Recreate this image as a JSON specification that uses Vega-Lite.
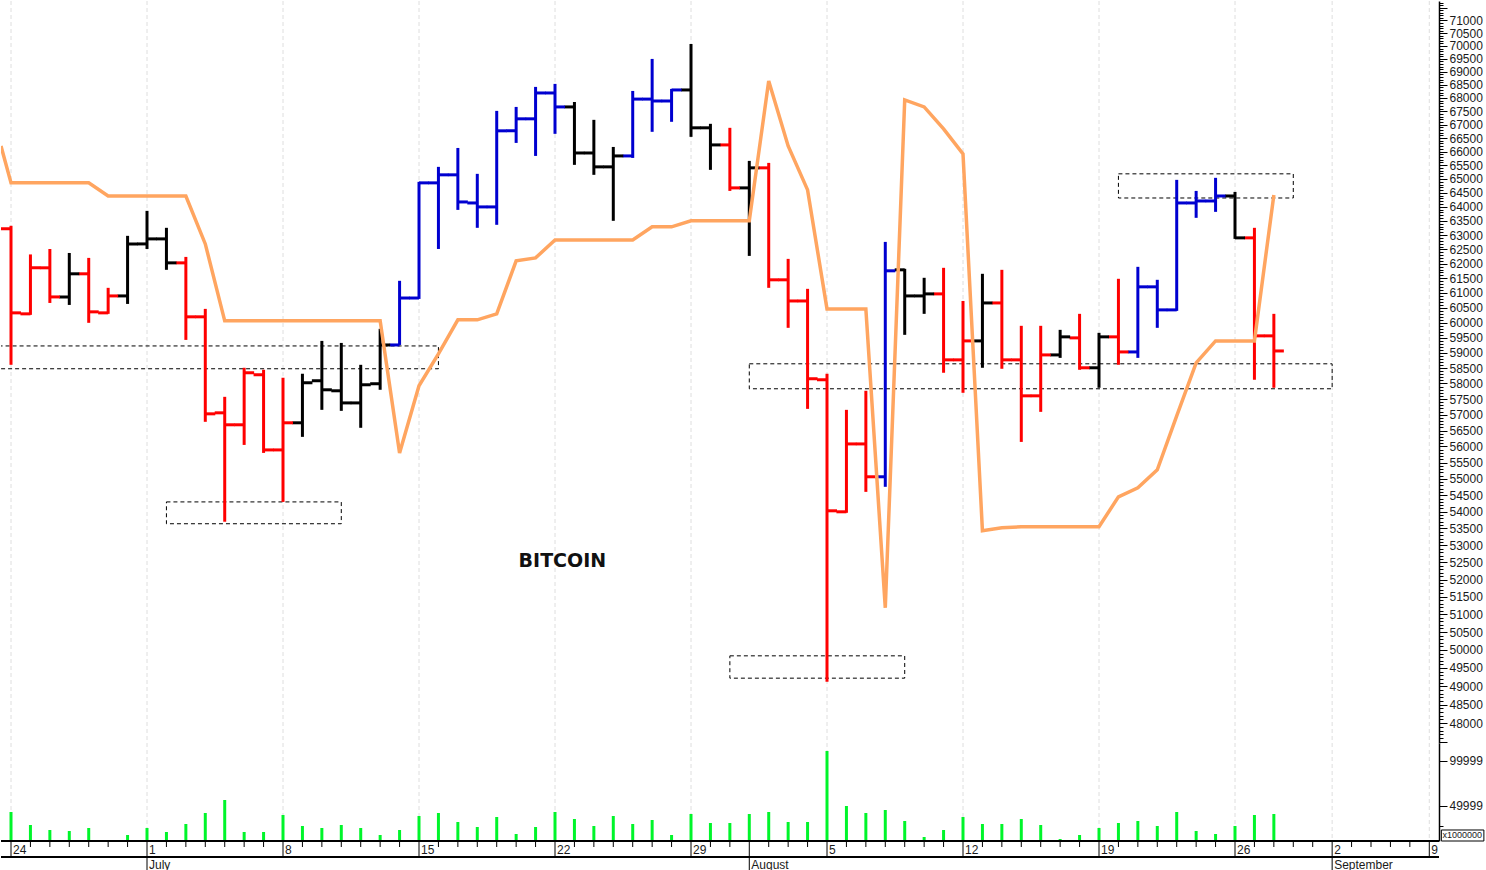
{
  "$schema": "https://vega.github.io/schema/vega-lite/v6.json",
  "padding": 0,
  "background": "white",
  "spacing": 0,
  "bounds": "flush",
  "config": {
    "view": {"stroke": null},
    "text": {"font": "Liberation Sans"}
  },
  "datasets": {
    "bars": [
      {"day":0,"open":63220,"high":63326,"low":58607,"close":60328,"volume":43340,"trend":"down"},
      {"day":1,"open":60295,"high":62324,"low":60261,"close":61861,"volume":28900,"trend":"down"},
      {"day":2,"open":61861,"high":62514,"low":60662,"close":60866,"volume":23340,"trend":"down"},
      {"day":3,"open":60866,"high":62375,"low":60595,"close":61655,"volume":22230,"trend":"flat"},
      {"day":4,"open":61655,"high":62204,"low":59994,"close":60362,"volume":25560,"trend":"down"},
      {"day":5,"open":60328,"high":61175,"low":60295,"close":60900,"volume":12230,"trend":"down"},
      {"day":6,"open":60900,"high":62973,"low":60629,"close":62690,"volume":17790,"trend":"flat"},
      {"day":7,"open":62690,"high":63855,"low":62514,"close":62866,"volume":25560,"trend":"flat"},
      {"day":8,"open":62866,"high":63255,"low":61792,"close":62032,"volume":21120,"trend":"flat"},
      {"day":9,"open":62032,"high":62238,"low":59426,"close":60195,"volume":30000,"trend":"down"},
      {"day":10,"open":60195,"high":60462,"low":56775,"close":57028,"volume":42230,"trend":"down"},
      {"day":11,"open":57060,"high":57571,"low":53701,"close":56681,"volume":56670,"trend":"down"},
      {"day":12,"open":56681,"high":58510,"low":56049,"close":58348,"volume":21120,"trend":"down"},
      {"day":13,"open":58283,"high":58445,"low":55800,"close":55893,"volume":21120,"trend":"down"},
      {"day":14,"open":55893,"high":58186,"low":54297,"close":56744,"volume":40000,"trend":"down"},
      {"day":15,"open":56744,"high":58316,"low":56301,"close":58024,"volume":27780,"trend":"flat"},
      {"day":16,"open":58089,"high":59393,"low":57155,"close":57797,"volume":25560,"trend":"flat"},
      {"day":17,"open":57765,"high":59326,"low":57123,"close":57376,"volume":28900,"trend":"flat"},
      {"day":18,"open":57376,"high":58607,"low":56586,"close":57959,"volume":25560,"trend":"flat"},
      {"day":19,"open":57992,"high":59794,"low":57797,"close":59259,"volume":17790,"trend":"flat"},
      {"day":20,"open":59259,"high":61415,"low":59259,"close":60829,"volume":23340,"trend":"up"},
      {"day":21,"open":60829,"high":64896,"low":60798,"close":64859,"volume":38900,"trend":"up"},
      {"day":22,"open":64859,"high":65440,"low":62514,"close":65150,"volume":42230,"trend":"up"},
      {"day":23,"open":65150,"high":66133,"low":63890,"close":64173,"volume":32230,"trend":"up"},
      {"day":24,"open":64137,"high":65186,"low":63255,"close":63996,"volume":26670,"trend":"up"},
      {"day":25,"open":63996,"high":67513,"low":63361,"close":66767,"volume":37780,"trend":"up"},
      {"day":26,"open":66767,"high":67662,"low":66319,"close":67215,"volume":18900,"trend":"up"},
      {"day":27,"open":67215,"high":68421,"low":65840,"close":68190,"volume":26670,"trend":"up"},
      {"day":28,"open":68190,"high":68536,"low":66655,"close":67662,"volume":43340,"trend":"up"},
      {"day":29,"open":67662,"high":67849,"low":65513,"close":65948,"volume":35560,"trend":"flat"},
      {"day":30,"open":65948,"high":67177,"low":65150,"close":65440,"volume":27780,"trend":"flat"},
      {"day":31,"open":65440,"high":66170,"low":63502,"close":65840,"volume":38900,"trend":"flat"},
      {"day":32,"open":65840,"high":68267,"low":65767,"close":67958,"volume":30000,"trend":"up"},
      {"day":33,"open":67958,"high":69496,"low":66730,"close":67886,"volume":34450,"trend":"up"},
      {"day":34,"open":67886,"high":68344,"low":67103,"close":68305,"volume":17790,"trend":"up"},
      {"day":35,"open":68305,"high":70076,"low":66543,"close":66879,"volume":41120,"trend":"flat"},
      {"day":36,"open":66879,"high":67028,"low":65331,"close":66245,"volume":31120,"trend":"flat"},
      {"day":37,"open":66245,"high":66879,"low":64569,"close":64678,"volume":31120,"trend":"down"},
      {"day":38,"open":64678,"high":65658,"low":62273,"close":65404,"volume":41120,"trend":"flat"},
      {"day":39,"open":65404,"high":65585,"low":61175,"close":61449,"volume":43340,"trend":"down"},
      {"day":40,"open":61449,"high":62170,"low":59827,"close":60729,"volume":32230,"trend":"down"},
      {"day":41,"open":60729,"high":61141,"low":57186,"close":58154,"volume":32230,"trend":"down"},
      {"day":42,"open":58121,"high":58316,"low":49123,"close":54029,"volume":111109,"trend":"down"},
      {"day":43,"open":53999,"high":57155,"low":53969,"close":56080,"volume":50000,"trend":"down"},
      {"day":44,"open":56080,"high":57765,"low":54602,"close":55063,"volume":42230,"trend":"down"},
      {"day":45,"open":55063,"high":62761,"low":54756,"close":61758,"volume":45560,"trend":"up"},
      {"day":46,"open":61792,"high":61827,"low":59594,"close":60900,"volume":33340,"trend":"flat"},
      {"day":47,"open":60900,"high":61518,"low":60295,"close":60969,"volume":15560,"trend":"flat"},
      {"day":48,"open":60969,"high":61861,"low":58348,"close":58769,"volume":23340,"trend":"down"},
      {"day":49,"open":58769,"high":60729,"low":57700,"close":59393,"volume":37780,"trend":"down"},
      {"day":50,"open":59393,"high":61655,"low":58510,"close":60662,"volume":30000,"trend":"flat"},
      {"day":51,"open":60662,"high":61792,"low":58478,"close":58769,"volume":30000,"trend":"down"},
      {"day":52,"open":58769,"high":59894,"low":56143,"close":57603,"volume":35560,"trend":"down"},
      {"day":53,"open":57603,"high":59894,"low":57091,"close":58931,"volume":28900,"trend":"down"},
      {"day":54,"open":58931,"high":59760,"low":58834,"close":59527,"volume":13340,"trend":"flat"},
      {"day":55,"open":59493,"high":60295,"low":58445,"close":58510,"volume":17790,"trend":"down"},
      {"day":56,"open":58510,"high":59660,"low":57862,"close":59527,"volume":25560,"trend":"flat"},
      {"day":57,"open":59527,"high":61484,"low":58607,"close":59029,"volume":31120,"trend":"down"},
      {"day":58,"open":59029,"high":61895,"low":58834,"close":61209,"volume":33340,"trend":"up"},
      {"day":59,"open":61209,"high":61449,"low":59827,"close":60428,"volume":27780,"trend":"up"},
      {"day":60,"open":60428,"high":64968,"low":60395,"close":64137,"volume":43340,"trend":"up"},
      {"day":61,"open":64137,"high":64569,"low":63608,"close":64208,"volume":22230,"trend":"up"},
      {"day":62,"open":64208,"high":65041,"low":63820,"close":64387,"volume":18900,"trend":"up"},
      {"day":63,"open":64387,"high":64533,"low":62866,"close":62902,"volume":27780,"trend":"flat"},
      {"day":64,"open":62902,"high":63255,"low":58121,"close":59560,"volume":40000,"trend":"down"},
      {"day":65,"open":59560,"high":60295,"low":57862,"close":59061,"volume":41120,"trend":"down"}
    ],
    "signal": [
      {"day":-0.515,"value":66207},{"day":0,"value":64859},{"day":1,"value":64859},{"day":2,"value":64859},{"day":3,"value":64859},{"day":4,"value":64859},
      {"day":5,"value":64387},{"day":6,"value":64387},{"day":7,"value":64387},{"day":8,"value":64387},{"day":9,"value":64387},{"day":10,"value":62690},
      {"day":11,"value":60061},{"day":12,"value":60061},{"day":13,"value":60061},{"day":14,"value":60061},{"day":15,"value":60061},{"day":16,"value":60061},
      {"day":17,"value":60061},{"day":18,"value":60061},{"day":19,"value":60061},{"day":20,"value":55800},{"day":21,"value":57927},{"day":22,"value":58964},
      {"day":23,"value":60095},{"day":24,"value":60095},{"day":25,"value":60295},{"day":26,"value":62101},{"day":27,"value":62204},{"day":28,"value":62831},
      {"day":29,"value":62831},{"day":30,"value":62831},{"day":31,"value":62831},{"day":32,"value":62831},{"day":33,"value":63290},{"day":34,"value":63290},
      {"day":35,"value":63502},{"day":36,"value":63502},{"day":37,"value":63502},{"day":38,"value":63502},{"day":39,"value":68651},{"day":40,"value":66207},
      {"day":41,"value":64605},{"day":42,"value":60462},{"day":43,"value":60462},{"day":44,"value":60462},{"day":45,"value":51187},{"day":46,"value":67925},
      {"day":47,"value":67662},{"day":48,"value":66842},{"day":49,"value":65912},{"day":50,"value":53433},{"day":51,"value":53521},{"day":52,"value":53552},
      {"day":53,"value":53552},{"day":54,"value":53552},{"day":55,"value":53552},{"day":56,"value":53552},{"day":57,"value":54450},{"day":58,"value":54726},
      {"day":59,"value":55278},{"day":60,"value":56965},{"day":61,"value":58672},{"day":62,"value":59393},{"day":63,"value":59393},{"day":64,"value":59393},
      {"day":65,"value":64423}
    ],
    "boxes": [
      {"from":-1,"to":22,"top":59226,"bottom":58478},
      {"from":8,"to":17,"top":54297,"bottom":53641},
      {"from":38,"to":68,"top":58640,"bottom":57830},
      {"from":37,"to":46,"top":49835,"bottom":49219},
      {"from":57,"to":66,"top":65186,"bottom":64315}
    ],
    "dates": [
      {"day":0,"level":"week","label":"24"},{"day":1,"level":"day"},{"day":2,"level":"day"},{"day":3,"level":"day"},{"day":4,"level":"day"},{"day":5,"level":"day"},{"day":6,"level":"day"},
      {"day":7,"level":"month","label":"1","month":"July"},{"day":8,"level":"day"},{"day":9,"level":"day"},{"day":10,"level":"day"},{"day":11,"level":"day"},{"day":12,"level":"day"},{"day":13,"level":"day"},
      {"day":14,"level":"week","label":"8"},{"day":15,"level":"day"},{"day":16,"level":"day"},{"day":17,"level":"day"},{"day":18,"level":"day"},{"day":19,"level":"day"},{"day":20,"level":"day"},
      {"day":21,"level":"week","label":"15"},{"day":22,"level":"day"},{"day":23,"level":"day"},{"day":24,"level":"day"},{"day":25,"level":"day"},{"day":26,"level":"day"},{"day":27,"level":"day"},
      {"day":28,"level":"week","label":"22"},{"day":29,"level":"day"},{"day":30,"level":"day"},{"day":31,"level":"day"},{"day":32,"level":"day"},{"day":33,"level":"day"},{"day":34,"level":"day"},
      {"day":35,"level":"week","label":"29"},{"day":36,"level":"day"},{"day":37,"level":"day"},{"day":38,"level":"month","month":"August"},{"day":39,"level":"day"},{"day":40,"level":"day"},{"day":41,"level":"day"},
      {"day":42,"level":"week","label":"5"},{"day":43,"level":"day"},{"day":44,"level":"day"},{"day":45,"level":"day"},{"day":46,"level":"day"},{"day":47,"level":"day"},{"day":48,"level":"day"},
      {"day":49,"level":"week","label":"12"},{"day":50,"level":"day"},{"day":51,"level":"day"},{"day":52,"level":"day"},{"day":53,"level":"day"},{"day":54,"level":"day"},{"day":55,"level":"day"},
      {"day":56,"level":"week","label":"19"},{"day":57,"level":"day"},{"day":58,"level":"day"},{"day":59,"level":"day"},{"day":60,"level":"day"},{"day":61,"level":"day"},{"day":62,"level":"day"},
      {"day":63,"level":"week","label":"26"},{"day":64,"level":"day"},{"day":65,"level":"day"},{"day":66,"level":"day"},{"day":67,"level":"day"},
      {"day":68,"level":"month","label":"2","month":"September"},{"day":69,"level":"day"},{"day":70,"level":"day"},{"day":71,"level":"day"},{"day":72,"level":"day"},
      {"day":73,"level":"week","label":"9"}
    ]
  },
  "vconcat": [
    {
      "width": 1438,
      "height": 742,
      "encoding": {
        "x": {"field": "day", "type": "quantitative", "scale": {"domain": [-0.515, 73.5], "nice": false, "zero": false}, "axis": null}
      },
      "layer": [
        {
          "data": {"name": "dates"},
          "transform": [{"filter": "datum.label"}],
          "mark": {"type": "rule", "color": "#dedede", "strokeWidth": 1, "strokeDash": [4, 3]}
        },
        {
          "data": {"name": "boxes"},
          "mark": {"type": "rect", "fillOpacity": 0, "stroke": "black", "strokeWidth": 1, "strokeDash": [4, 3], "clip": true},
          "encoding": {
            "x": {"field": "from", "type": "quantitative"},
            "x2": {"field": "to"},
            "y": {"field": "top", "type": "quantitative"},
            "y2": {"field": "bottom"}
          }
        },
        {
          "data": {"name": "bars"},
          "mark": {"type": "rule", "strokeWidth": 3},
          "encoding": {
            "y": {
              "field": "low",
              "type": "quantitative",
              "title": null,
              "scale": {"type": "log", "domain": [47473, 71775], "nice": false, "zero": false},
              "axis": {
                "orient": "right",
                "title": null,
                "grid": false,
                "values": {"expr": "sequence(47500, 71701, 100)"},
                "labelExpr": "datum.value % 500 == 0 && datum.value >= 48000 && datum.value <= 71000 ? format(datum.value, 'd') : ''",
                "labelOverlap": false,
                "labelFont": "Liberation Sans",
                "labelFontSize": {"condition": {"test": "datum.value % 500 == 0 && datum.value >= 48000 && datum.value <= 71000", "value": 12}, "value": 0},
                "labelColor": "#1a1a1a",
                "labelPadding": 2,
                "tickColor": "black",
                "tickWidth": 1,
                "tickSize": {"condition": {"test": "datum.value % 500 == 0", "value": 8}, "value": 4},
                "domainColor": "black",
                "domainWidth": 1.5
              }
            },
            "y2": {"field": "high"},
            "color": {"field": "trend", "type": "nominal", "scale": {"domain": ["up", "down", "flat"], "range": ["#0000d0", "#ff0000", "#000000"]}, "legend": null}
          }
        },
        {
          "data": {"name": "bars"},
          "mark": {"type": "tick", "orient": "horizontal", "size": 10, "thickness": 3, "xOffset": -5, "opacity": 1},
          "encoding": {
            "y": {"field": "open", "type": "quantitative"},
            "color": {"field": "trend", "type": "nominal", "legend": null}
          }
        },
        {
          "data": {"name": "bars"},
          "mark": {"type": "tick", "orient": "horizontal", "size": 10, "thickness": 3, "xOffset": 5, "opacity": 1},
          "encoding": {
            "y": {"field": "close", "type": "quantitative"},
            "color": {"field": "trend", "type": "nominal", "legend": null}
          }
        },
        {
          "data": {"name": "signal"},
          "mark": {"type": "line", "color": "#ffa560", "strokeWidth": 3.5, "clip": true},
          "encoding": {
            "y": {"field": "value", "type": "quantitative"}
          }
        },
        {
          "data": {"values": [{"day": 28.38, "price": 52545, "name": "BITCOIN"}]},
          "mark": {"type": "text", "font": "DejaVu Sans", "fontWeight": "bold", "fontSize": 19, "color": "#111111"},
          "encoding": {
            "y": {"field": "price", "type": "quantitative"},
            "text": {"field": "name"}
          }
        }
      ]
    },
    {
      "width": 1438,
      "height": 98,
      "encoding": {
        "x": {"field": "day", "type": "quantitative", "scale": {"domain": [-0.515, 73.5], "nice": false, "zero": false}, "axis": null}
      },
      "layer": [
        {
          "data": {"name": "dates"},
          "transform": [{"filter": "datum.label"}],
          "mark": {"type": "rule", "color": "#dedede", "strokeWidth": 1, "strokeDash": [4, 3]}
        },
        {
          "data": {"name": "bars"},
          "mark": {"type": "rule", "color": "#00f52a", "strokeWidth": 3},
          "encoding": {
            "y": {
              "field": "volume",
              "type": "quantitative",
              "title": null,
              "scale": {"domain": [11100, 120000], "nice": false, "zero": false},
              "axis": {
                "orient": "right",
                "title": null,
                "grid": false,
                "values": [120000, 99999, 84000, 49999, 39000, 28000],
                "labelExpr": "datum.value == 99999 || datum.value == 49999 ? format(datum.value, 'd') : ''",
                "labelOverlap": false,
                "labelFont": "Liberation Sans",
                "labelFontSize": {"condition": {"test": "datum.value == 99999 || datum.value == 49999", "value": 12}, "value": 0},
                "labelColor": "#1a1a1a",
                "labelPadding": 2,
                "tickColor": "black",
                "tickWidth": 1,
                "tickSize": {"condition": {"test": "datum.value == 99999 || datum.value == 49999 || datum.value == 120000", "value": 8}, "value": 4},
                "domainColor": "black",
                "domainWidth": 1.5
              }
            },
            "y2": {"datum": 11100}
          }
        },
        {
          "data": {"values": [{"from": 73.62, "to": 75.81, "top": 23340, "bottom": 11100}]},
          "mark": {"type": "rect", "fill": "white", "stroke": "black", "strokeWidth": 1},
          "encoding": {
            "x": {"field": "from", "type": "quantitative"},
            "x2": {"field": "to"},
            "y": {"field": "top", "type": "quantitative"},
            "y2": {"field": "bottom"}
          }
        },
        {
          "data": {"values": [{"day": 74.7, "level": 17790, "unit": "x1000000"}]},
          "mark": {"type": "text", "fontSize": 9, "color": "#1a1a1a"},
          "encoding": {
            "y": {"field": "level", "type": "quantitative"},
            "text": {"field": "unit"}
          }
        }
      ]
    },
    {
      "width": 1438,
      "height": 30,
      "data": {"name": "dates"},
      "encoding": {
        "x": {"field": "day", "type": "quantitative", "scale": {"domain": [-0.515, 73.5], "nice": false, "zero": false}, "axis": null}
      },
      "layer": [
        {
          "mark": {"type": "rule", "color": "black", "strokeWidth": 1.5},
          "encoding": {
            "x": {"datum": -0.515},
            "x2": {"datum": 73.5},
            "y": {"datum": 0, "type": "quantitative", "scale": {"domain": [0, 30], "reverse": true, "nice": false, "zero": false}, "axis": null}
          }
        },
        {
          "mark": {"type": "rule", "color": "black", "strokeWidth": 1},
          "encoding": {
            "x": {"datum": -0.515},
            "x2": {"datum": 73.5},
            "y": {"datum": 16, "type": "quantitative"}
          }
        },
        {
          "transform": [{"filter": "datum.level == 'day'"}],
          "mark": {"type": "rule", "color": "black", "strokeWidth": 1},
          "encoding": {
            "y": {"datum": 0, "type": "quantitative"},
            "y2": {"datum": 6}
          }
        },
        {
          "transform": [{"filter": "datum.level == 'week'"}],
          "mark": {"type": "rule", "color": "black", "strokeWidth": 1},
          "encoding": {
            "y": {"datum": 0, "type": "quantitative"},
            "y2": {"datum": 16}
          }
        },
        {
          "transform": [{"filter": "datum.level == 'month'"}],
          "mark": {"type": "rule", "color": "black", "strokeWidth": 1},
          "encoding": {
            "y": {"datum": 0, "type": "quantitative"},
            "y2": {"datum": 30}
          }
        },
        {
          "transform": [{"filter": "datum.label"}],
          "mark": {"type": "text", "align": "left", "dx": 2, "fontSize": 12, "color": "#1a1a1a"},
          "encoding": {
            "y": {"datum": 9, "type": "quantitative"},
            "text": {"field": "label"}
          }
        },
        {
          "transform": [{"filter": "datum.month"}],
          "mark": {"type": "text", "align": "left", "dx": 2, "fontSize": 12, "color": "#1a1a1a"},
          "encoding": {
            "y": {"datum": 24, "type": "quantitative"},
            "text": {"field": "month"}
          }
        }
      ]
    }
  ]
}
